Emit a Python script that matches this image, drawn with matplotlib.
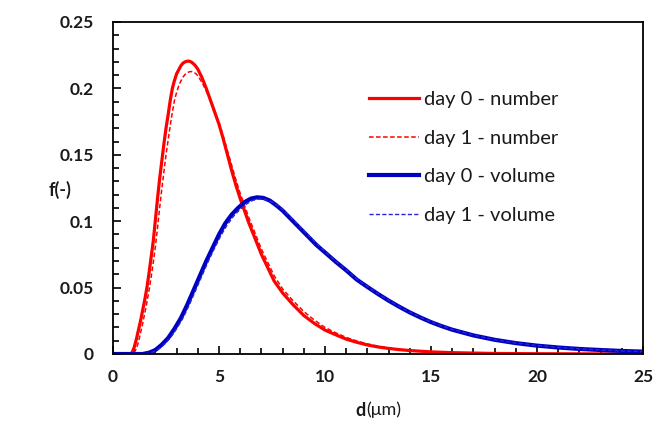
import matplotlib
matplotlib.use("Agg")
import matplotlib.pyplot as plt
from matplotlib.ticker import MultipleLocator, FixedLocator

# ---- data ----
d_num0 = [0, 0.8, 0.9, 1.0, 1.1, 1.2, 1.3, 1.4, 1.5, 1.6, 1.7, 1.8, 1.9, 2.0, 2.1, 2.2, 2.3, 2.4,
          2.5, 2.6, 2.7, 2.8, 2.9, 3.0, 3.1, 3.2, 3.3, 3.4, 3.5, 3.6, 3.7, 3.8, 3.9, 4.0, 4.2, 4.4,
          4.6, 4.8, 5.0, 5.2, 5.4, 5.6, 5.8, 6.0, 6.2, 6.4, 6.6, 6.8, 7.0, 7.3, 7.6, 8.0, 8.5, 9.0,
          9.5, 10.0, 10.5, 11.0, 11.5, 12.0, 12.5, 13.0, 13.5, 14, 15, 16, 18, 20, 25]
f_num0 = [0, 0, 0.001, 0.005, 0.011, 0.018, 0.025, 0.033, 0.041, 0.050, 0.061, 0.073, 0.085,
          0.101, 0.117, 0.132, 0.145, 0.158, 0.170, 0.180, 0.191, 0.200, 0.206, 0.211, 0.214,
          0.217, 0.219, 0.220, 0.2205, 0.2205, 0.2198, 0.2185, 0.2168, 0.2145, 0.208, 0.200,
          0.191, 0.182, 0.173, 0.162, 0.150, 0.138, 0.127, 0.117, 0.108, 0.099, 0.091, 0.083,
          0.075, 0.065, 0.055, 0.046, 0.037, 0.029, 0.023, 0.018, 0.0145, 0.0112, 0.0088,
          0.0068, 0.0053, 0.0042, 0.0033, 0.0026, 0.0016, 0.0010, 0.0004, 0.0002, 0]

d_num1 = [0, 0.9, 1.0, 1.1, 1.2, 1.3, 1.4, 1.5, 1.6, 1.7, 1.8, 1.9, 2.0, 2.1, 2.2, 2.3, 2.4, 2.5,
          2.6, 2.7, 2.8, 2.9, 3.0, 3.1, 3.2, 3.3, 3.4, 3.5, 3.6, 3.7, 3.8, 3.9, 4.0, 4.2, 4.4, 4.6,
          4.8, 5.0, 5.2, 5.4, 5.6, 5.8, 6.0, 6.2, 6.4, 6.6, 6.8, 7.0, 7.3, 7.6, 8.0, 8.5, 9.0, 9.5,
          10.0, 10.5, 11.0, 11.5, 12.0, 12.5, 13.0, 13.5, 14, 15, 16, 18, 20, 25]
f_num1 = [0, 0, 0.001, 0.004, 0.009, 0.016, 0.023, 0.031, 0.039, 0.048, 0.058, 0.069, 0.081,
          0.095, 0.110, 0.124, 0.137, 0.150, 0.161, 0.172, 0.182, 0.191, 0.197, 0.202, 0.2055,
          0.2085, 0.2105, 0.2118, 0.2125, 0.2127, 0.2123, 0.2112, 0.2095, 0.2045, 0.198, 0.191,
          0.183, 0.174, 0.164, 0.153, 0.142, 0.131, 0.121, 0.112, 0.103, 0.095, 0.087, 0.079,
          0.069, 0.059, 0.049, 0.040, 0.032, 0.0255, 0.020, 0.016, 0.0125, 0.0098, 0.0076,
          0.0059, 0.0046, 0.0036, 0.0028, 0.0017, 0.0011, 0.0004, 0.0002, 0]

d_vol0 = [0, 1.4, 1.7, 2.0, 2.3, 2.6, 2.9, 3.2, 3.5, 3.8, 4.1, 4.4, 4.7, 5.0, 5.3, 5.6, 5.9, 6.2,
          6.5, 6.8, 7.1, 7.4, 7.7, 8.0, 8.4, 8.8, 9.2, 9.6, 10.0, 10.5, 11.0, 11.5, 12.0, 12.5,
          13.0, 13.5, 14.0, 14.5, 15.0, 15.5, 16.0, 17.0, 18.0, 19.0, 20.0, 21.0, 22.0, 23.0,
          24.0, 25.0]
f_vol0 = [0, 0, 0.001, 0.003, 0.007, 0.012, 0.019, 0.027, 0.037, 0.048, 0.059, 0.070, 0.080,
          0.090, 0.0985, 0.105, 0.110, 0.1143, 0.117, 0.118, 0.1175, 0.1155, 0.112, 0.108,
          0.1015, 0.095, 0.0885, 0.082, 0.0765, 0.0695, 0.063, 0.056, 0.0505, 0.0452, 0.0402,
          0.0356, 0.0313, 0.0275, 0.024, 0.021, 0.0183, 0.014, 0.0107, 0.0082, 0.0063, 0.0049,
          0.0038, 0.003, 0.0023, 0.0018]

d_vol1 = [0, 1.5, 1.8, 2.1, 2.4, 2.7, 3.0, 3.3, 3.6, 3.9, 4.2, 4.5, 4.8, 5.1, 5.4, 5.7, 6.0, 6.3,
          6.6, 6.9, 7.2, 7.5, 7.8, 8.1, 8.5, 8.9, 9.3, 9.7, 10.0, 10.5, 11.0, 11.5, 12.0, 12.5,
          13.0, 13.5, 14.0, 14.5, 15.0, 15.5, 16.0, 17.0, 18.0, 19.0, 20.0, 21.0, 22.0, 23.0,
          24.0, 25.0]
f_vol1 = [0, 0, 0.001, 0.003, 0.007, 0.012, 0.019, 0.027, 0.037, 0.048, 0.059, 0.070, 0.080,
          0.0895, 0.0975, 0.104, 0.109, 0.113, 0.1157, 0.1168, 0.1163, 0.1145, 0.1115, 0.1075,
          0.101, 0.0945, 0.088, 0.0818, 0.077, 0.070, 0.0633, 0.0565, 0.0508, 0.0455, 0.0404,
          0.0358, 0.0315, 0.0277, 0.0242, 0.0212, 0.0185, 0.0142, 0.0108, 0.0083, 0.0064,
          0.005, 0.0039, 0.003, 0.0023, 0.0018]

labels = ["day 0 - number", "day 1 - number", "day 0 - volume", "day 1 - volume"]
x_ticks = [0, 5, 10, 15, 20, 25]
y_ticks = [0, 0.05, 0.1, 0.15, 0.2, 0.25]
y_tick_labels = ["0", "0.05", "0.1", "0.15", "0.2", "0.25"]

plt.rcParams['font.family'] = ['Lato', 'DejaVu Sans']

fig = plt.figure(figsize=(6.55, 4.26), dpi=100)
ax = fig.add_axes([113/655, 72/426, 530/655, 332/426])

red = '#FF0000'
blue = '#0000C0'
ax.plot(d_num0, f_num0, color=red, lw=2.3, label=labels[0], solid_joinstyle='round')
ax.plot(d_num1, f_num1, color=red, lw=1.1, ls=(0, (3, 1.6)), label=labels[1])
ax.plot(d_vol0, f_vol0, color=blue, lw=3.0, label=labels[2], solid_joinstyle='round')
ax.plot(d_vol1, f_vol1, color='#2525D8', lw=1.0, ls=(0, (3, 1.6)), label=labels[3])

ax.set_xlim(0, 25)
ax.set_ylim(0, 0.25)
ax.xaxis.set_major_locator(FixedLocator(x_ticks))
ax.xaxis.set_minor_locator(MultipleLocator(1))
ax.yaxis.set_major_locator(FixedLocator(y_ticks))
ax.yaxis.set_minor_locator(MultipleLocator(0.01))
ax.set_yticklabels(y_tick_labels)
ax.set_xticklabels([str(v) for v in x_ticks])

ax.tick_params(axis='both', which='both', direction='in', color='black', width=1.2)
ax.tick_params(axis='both', which='major', length=6, labelsize=12.5)
ax.tick_params(axis='both', which='minor', length=4)
ax.tick_params(axis='y', which='both', pad=14)
ax.tick_params(axis='x', which='both', pad=11)
for lab in ax.get_xticklabels() + ax.get_yticklabels():
    lab.set_fontweight('bold')
    lab.set_color('#1a1a1a')
for s in ax.spines.values():
    s.set_color('black')
    s.set_linewidth(1.3)

# axis labels
fig.text(60/655, 1 - 190/426, "f(-)", fontsize=13, fontweight='bold', ha='center', va='center',
         color='#1a1a1a')
fig.text(366/655, 1 - 410/426, "d", fontsize=13, fontweight='bold', ha='right', va='center',
         color='#1a1a1a')
fig.text(366/655, 1 - 410/426, "(μm)", fontsize=13, ha='left', va='center', color='#1a1a1a')

leg = ax.legend(loc='upper left', bbox_to_anchor=((369-113)/530, 1 - (91-22)/332), frameon=False,
                fontsize=14.5, handlelength=2.5, handletextpad=0.25, labelspacing=1.07,
                borderaxespad=0, borderpad=0)
for t in leg.get_texts():
    t.set_color('#1a1a1a')

fig.savefig("out.png", dpi=100)
